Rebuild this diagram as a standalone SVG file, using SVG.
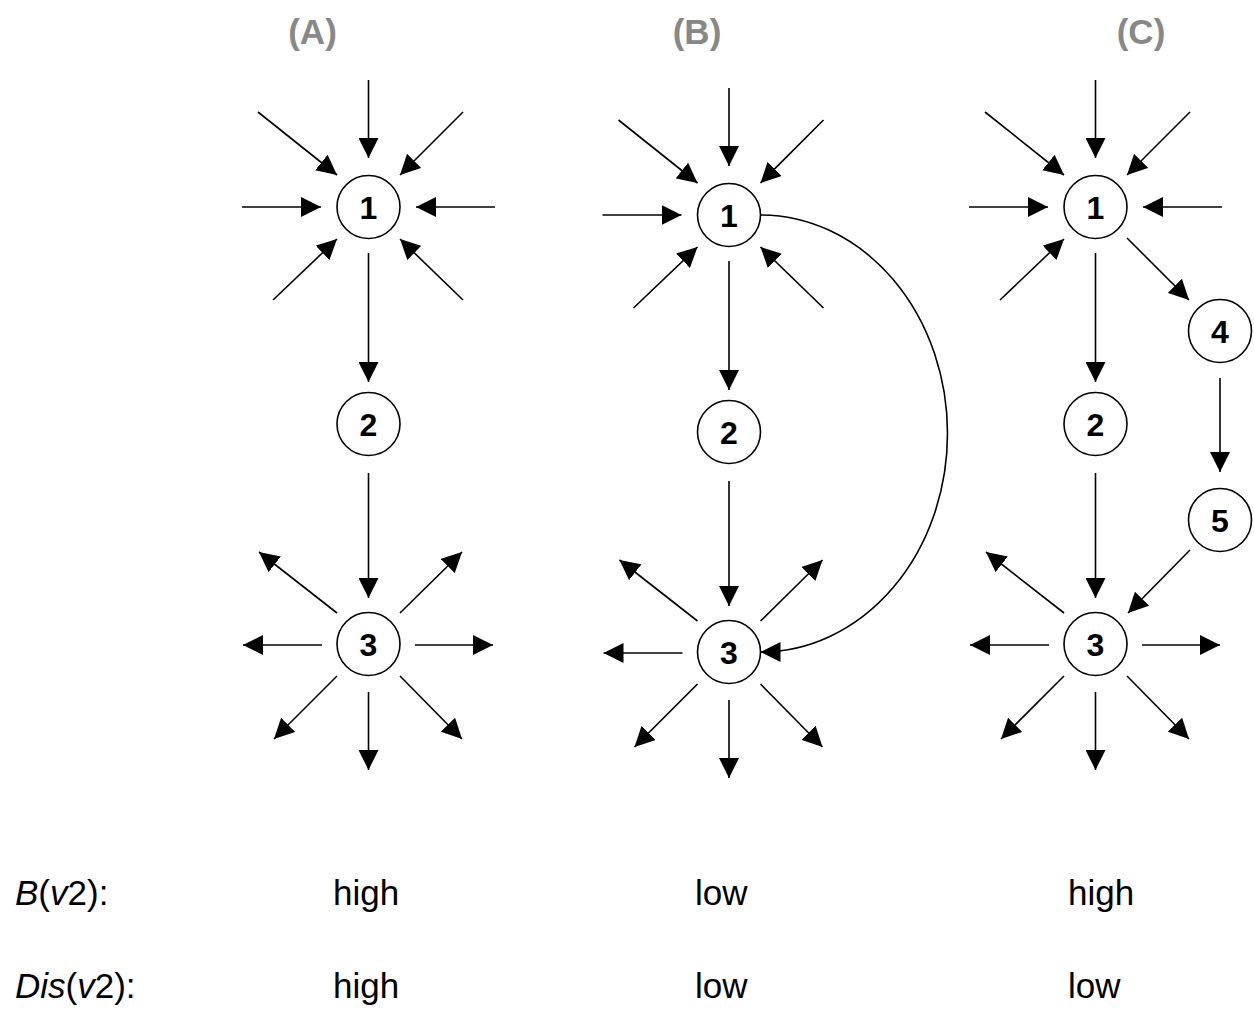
<svg xmlns="http://www.w3.org/2000/svg" width="1254" height="1015" viewBox="0 0 1254 1015">
<style>
.bg{fill:#fff}
.node circle{fill:#fff;stroke:#000;stroke-width:1.6}
.node text{font-family:"Liberation Sans",Arial,sans-serif;font-weight:bold;font-size:32px;text-anchor:middle;fill:#000}
.edge{fill:none;stroke:#000;stroke-width:1.6;marker-end:url(#ah)}
.hdr{font-family:"Liberation Sans",Arial,sans-serif;font-weight:bold;font-size:35px;text-anchor:middle;fill:#888}
.lbl{font-family:"Liberation Sans",Arial,sans-serif;font-size:35px;fill:#000}
.it{font-style:italic}
</style>
<defs>
<marker id="ah" markerUnits="userSpaceOnUse" markerWidth="20" markerHeight="20" refX="20" refY="10" orient="auto" viewBox="0 0 20 20">
<path d="M0,0 L20,10 L0,20 z" fill="#000"/>
</marker>
</defs>
<rect class="bg" width="1254" height="1015"/>

<text class="hdr" x="312.5" y="44">(A)</text>
<text class="hdr" x="697" y="44">(B)</text>
<text class="hdr" x="1141" y="44">(C)</text>

<g id="connectors">
<g id="edges-A">
<line class="edge" x1="368.5" y1="80" x2="368.5" y2="158"/>
<line class="edge" x1="258" y1="112" x2="337" y2="175"/>
<line class="edge" x1="463" y1="112" x2="400" y2="175"/>
<line class="edge" x1="242" y1="207" x2="321" y2="207"/>
<line class="edge" x1="495" y1="207" x2="416" y2="207"/>
<line class="edge" x1="273" y1="300" x2="337" y2="239"/>
<line class="edge" x1="463" y1="300" x2="400" y2="239"/>
<line class="edge" x1="368.5" y1="253" x2="368.5" y2="382"/>
<line class="edge" x1="368.5" y1="473" x2="368.5" y2="598"/>
<line class="edge" x1="337" y1="613" x2="259" y2="552"/>
<line class="edge" x1="400" y1="613" x2="462" y2="552"/>
<line class="edge" x1="322" y1="645" x2="243" y2="645"/>
<line class="edge" x1="415" y1="645" x2="493" y2="645"/>
<line class="edge" x1="337" y1="676" x2="274" y2="739"/>
<line class="edge" x1="368.5" y1="692" x2="368.5" y2="770"/>
<line class="edge" x1="400" y1="676" x2="462" y2="739"/>
</g>
<g id="edges-B" transform="translate(360.5,8)">
<line class="edge" x1="368.5" y1="80" x2="368.5" y2="158"/>
<line class="edge" x1="258" y1="112" x2="337" y2="175"/>
<line class="edge" x1="463" y1="112" x2="400" y2="175"/>
<line class="edge" x1="242" y1="207" x2="321" y2="207"/>
<line class="edge" x1="273" y1="300" x2="337" y2="239"/>
<line class="edge" x1="463" y1="300" x2="400" y2="239"/>
<line class="edge" x1="368.5" y1="253" x2="368.5" y2="382"/>
<line class="edge" x1="368.5" y1="473" x2="368.5" y2="598"/>
<line class="edge" x1="337" y1="613" x2="259" y2="552"/>
<line class="edge" x1="400" y1="613" x2="462" y2="552"/>
<line class="edge" x1="322" y1="645" x2="243" y2="645"/>
<line class="edge" x1="337" y1="676" x2="274" y2="739"/>
<line class="edge" x1="368.5" y1="692" x2="368.5" y2="770"/>
<line class="edge" x1="400" y1="676" x2="462" y2="739"/>
<path class="edge" d="M400,207 A187 218.5 0 0 1 400,644"/>
</g>
<g id="edges-C" transform="translate(727,0)">
<line class="edge" x1="368.5" y1="80" x2="368.5" y2="158"/>
<line class="edge" x1="258" y1="112" x2="337" y2="175"/>
<line class="edge" x1="463" y1="112" x2="400" y2="175"/>
<line class="edge" x1="242" y1="207" x2="321" y2="207"/>
<line class="edge" x1="495" y1="207" x2="416" y2="207"/>
<line class="edge" x1="273" y1="300" x2="337" y2="239"/>
<line class="edge" x1="368.5" y1="253" x2="368.5" y2="382"/>
<line class="edge" x1="368.5" y1="473" x2="368.5" y2="598"/>
<line class="edge" x1="337" y1="613" x2="259" y2="552"/>
<line class="edge" x1="322" y1="645" x2="243" y2="645"/>
<line class="edge" x1="415" y1="645" x2="493" y2="645"/>
<line class="edge" x1="337" y1="676" x2="274" y2="739"/>
<line class="edge" x1="368.5" y1="692" x2="368.5" y2="770"/>
<line class="edge" x1="400" y1="676" x2="462" y2="739"/>
<line class="edge" x1="400" y1="238" x2="462" y2="300"/>
<line class="edge" x1="493" y1="378" x2="493" y2="472"/>
<line class="edge" x1="463" y1="550" x2="401" y2="613"/>
</g>
</g>

<g id="A1" class="node"><circle cx="368.5" cy="207" r="31.5"/><text x="368.5" y="218.5">1</text></g>
<g id="A2" class="node"><circle cx="368.5" cy="424" r="31.5"/><text x="368.5" y="435.5">2</text></g>
<g id="A3" class="node"><circle cx="368.5" cy="644" r="31.5"/><text x="368.5" y="655.5">3</text></g>

<g id="B1" class="node"><circle cx="729" cy="215" r="31.5"/><text x="729" y="226.5">1</text></g>
<g id="B2" class="node"><circle cx="729" cy="432" r="31.5"/><text x="729" y="443.5">2</text></g>
<g id="B3" class="node"><circle cx="729" cy="652" r="31.5"/><text x="729" y="663.5">3</text></g>

<g id="C1" class="node"><circle cx="1095.5" cy="207" r="31.5"/><text x="1095.5" y="218.5">1</text></g>
<g id="C2" class="node"><circle cx="1095.5" cy="424" r="31.5"/><text x="1095.5" y="435.5">2</text></g>
<g id="C3" class="node"><circle cx="1095.5" cy="644" r="31.5"/><text x="1095.5" y="655.5">3</text></g>
<g id="C4" class="node"><circle cx="1220" cy="331" r="31.5"/><text x="1220" y="342.5">4</text></g>
<g id="C5" class="node"><circle cx="1220" cy="520" r="31.5"/><text x="1220" y="531.5">5</text></g>

<g id="labels">
<text class="lbl" x="15" y="905"><tspan class="it">B</tspan>(<tspan class="it">v</tspan>2):</text>
<text class="lbl" x="15" y="998"><tspan class="it">Dis</tspan>(<tspan class="it">v</tspan>2):</text>
<text class="lbl" x="333" y="905">high</text>
<text class="lbl" x="333" y="998">high</text>
<text class="lbl" x="695" y="905">low</text>
<text class="lbl" x="695" y="998">low</text>
<text class="lbl" x="1068" y="905">high</text>
<text class="lbl" x="1068" y="998">low</text>
</g>
</svg>
